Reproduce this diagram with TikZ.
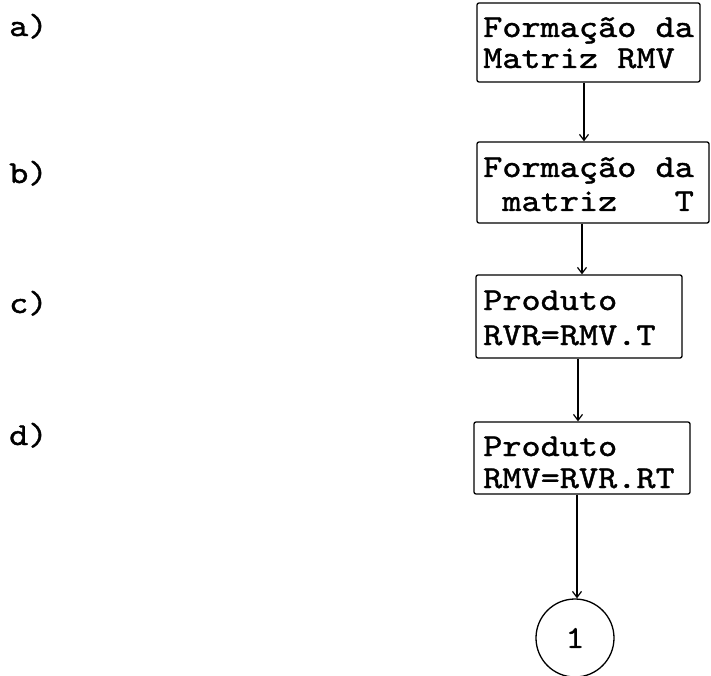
\documentclass[tikz,border=0pt]{standalone}
\usepackage{fontspec}
\newfontfamily\courf[FakeStretch=1.14,FakeBold=1.2]{lmmono10-regular.otf}
\usetikzlibrary{arrows.meta}
\begin{document}
\begin{tikzpicture}[x=1pt,y=-1pt,
  boxstyle/.style={draw,line width=1.3pt,rounded corners=2pt,inner sep=0pt},
  txt/.style={anchor=base west,inner sep=0pt,font=\courf\fontsize{32}{32}\selectfont},
  lbl/.style={anchor=base west,inner sep=0pt,font=\courf\fontsize{32}{32}\selectfont},
  conn/.style={line width=1.2pt,-{Straight Barb[length=6pt,width=9pt,line width=1.2pt]}}]
\useasboundingbox (0,0) rectangle (711,676);
% boxes
\node[boxstyle,minimum width=223pt,minimum height=79pt] (a) at (588.5,42.5) {};
\node[boxstyle,minimum width=232pt,minimum height=81pt] (b) at (593,182.5) {};
\node[boxstyle,minimum width=206pt,minimum height=83pt] (c) at (579,316.5) {};
\node[boxstyle,minimum width=216pt,minimum height=72pt] (d) at (582,458) {};
\node[draw,circle,line width=1.3pt,minimum size=78pt,inner sep=0pt,font=\courf\fontsize{32}{32}\selectfont] (e) at (575,638) {1};
% texts
\node[txt] (a1) at (483,37) {Formação da};
\node[txt] (a2) at (483,68) {Matriz RMV};
\node[txt] (b1) at (483,177) {Formação da};
\node[txt] (b2) at (483,211) {~matriz~~~T};
\node[txt] (c1) at (483,310) {Produto};
\node[txt] (c2) at (483,345) {RVR=RMV.T};
\node[txt] (d1) at (483,456) {Produto};
\node[txt] (d2) at (483,488) {RMV=RVR.RT};
% labels
\node[lbl] (la) at (9,36) {a)};
\node[lbl] (lb) at (9,183) {b)};
\node[lbl] (lc) at (9,313) {c)};
\node[lbl] (ld) at (9,445) {d)};
% connectors
\coordinate (xab) at (584,0);
\coordinate (xbc) at (582,0);
\coordinate (xcd) at (578,0);
\coordinate (xde) at (577,0);
\draw[conn] (a.south -| xab) -- (b.north -| xab);
\draw[conn] (b.south -| xbc) -- (c.north -| xbc);
\draw[conn] (c.south -| xcd) -- (d.north -| xcd);
\draw[conn] (d.south -| xde) -- (e.north -| xde);
\end{tikzpicture}
\end{document}
